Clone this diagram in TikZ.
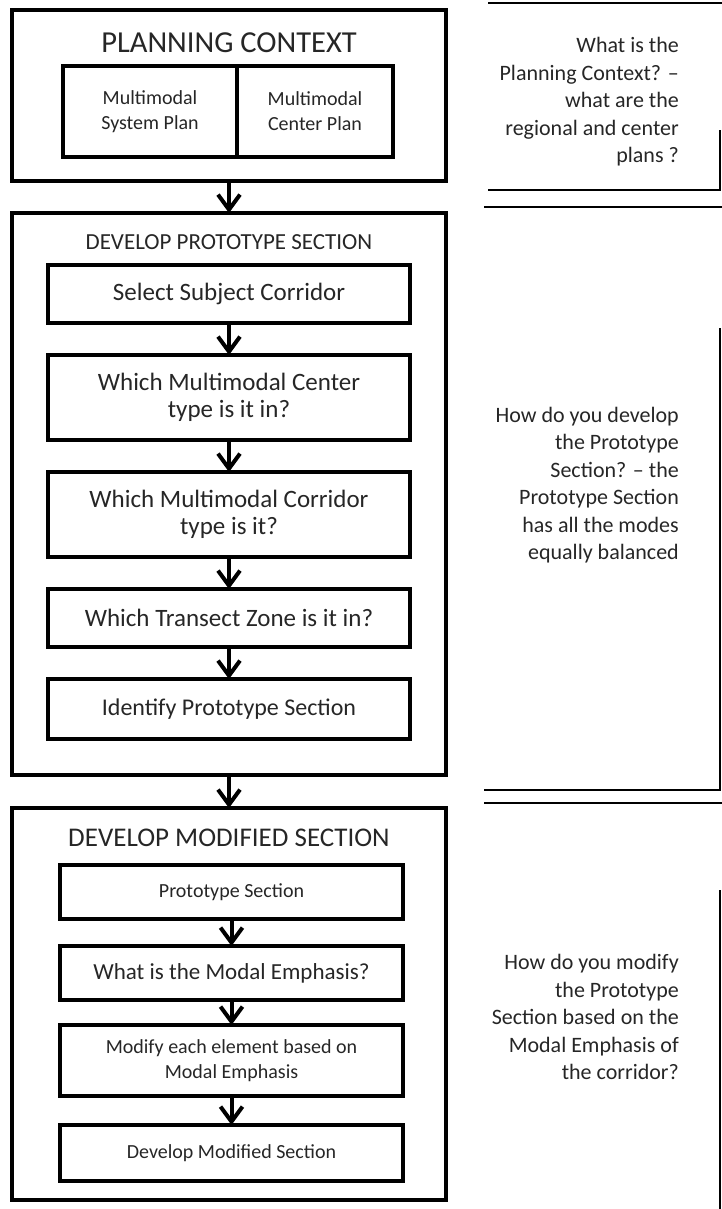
\documentclass[tikz,border=0pt]{standalone}
\usepackage{fontspec}
\setmainfont{Carlito}
\usetikzlibrary{arrows.meta, positioning}

\begin{document}
\begin{tikzpicture}[x=1pt, y=-1pt,
        frame/.style={draw, line width=4pt, outer sep=0pt, inner sep=0pt,
                      minimum width=434pt},
        box/.style={draw, line width=4pt, outer sep=0pt, inner sep=0pt,
                    align=center, text=black!85},
        bigbox/.style={box, minimum width=362pt, font=\fontsize{25}{27}\selectfont},
        modbox/.style={box, minimum width=343pt, font=\fontsize{20}{25}\selectfont},
        head/.style={text=black!85, inner sep=0pt},
        note/.style={text=black!85, align=right, anchor=east, inner sep=0pt,
                     font=\fontsize{22}{27.5}\selectfont},
        rim/.style={line width=2.5pt},
        arr/.style={-{Straight Barb[length=15pt, width=22pt]}, line width=4pt}
      ]
        \useasboundingbox (0,0) rectangle (722,1209);

        % planning context
        \node[frame, minimum height=171pt] (plan) at (229,95.5) {};
        \node[head, font=\fontsize{30.5}{36}\selectfont] (plantitle) at (229,43) {PLANNING CONTEXT};
        \node[box, minimum width=174pt, minimum height=91pt,
              font=\fontsize{20}{25}\selectfont] (sysplan) at (150,111.5) {Multimodal\\System Plan};
        \node[box, minimum width=156pt, minimum height=91pt,
              font=\fontsize{20}{25}\selectfont] (ctrplan) [right=0pt of sysplan] {Multimodal\\Center Plan};

        % prototype section
        \node[frame, minimum height=562pt] (proto) at (229,494) {};
        \node[head, font=\fontsize{23}{28}\selectfont] (prototitle) at (229,242) {DEVELOP PROTOTYPE SECTION};
        \node[bigbox, minimum height=58pt] (subj) at (229,294) {Select Subject Corridor};
        \node[bigbox, minimum height=85pt] (ctype) [below=32pt of subj]  {Which Multimodal Center\\type is it in?};
        \node[bigbox, minimum height=85pt] (rtype) [below=32pt of ctype] {Which Multimodal Corridor\\type is it?};
        \node[bigbox, minimum height=58pt] (zone)  [below=32pt of rtype] {Which Transect Zone is it in?};
        \node[bigbox, minimum height=60pt, font=\fontsize{24}{27}\selectfont] (ident) [below=32pt of zone]  {Identify Prototype Section};

        % modified section
        \node[frame, minimum height=392pt] (modif) at (229,1004) {};
        \node[head, font=\fontsize{27}{32}\selectfont] (modiftitle) at (229,838) {DEVELOP MODIFIED SECTION};
        \node[modbox, minimum height=54pt] (psec) at (231.5,892) {Prototype Section};
        \node[modbox, minimum height=54pt, font=\fontsize{23}{25}\selectfont] (emph) [below=27pt of psec] {What is the Modal Emphasis?};
        \node[modbox, minimum height=71pt] (elem) [below=25pt of emph] {Modify each element based on\\Modal Emphasis};
        \node[modbox, minimum height=56pt] (msec) [below=29pt of elem] {Develop Modified Section};

        \draw[arr] (plan)--(proto);
        \draw[arr] (proto)--(modif);
        \draw[arr] (subj)--(ctype);
        \draw[arr] (ctype)--(rtype);
        \draw[arr] (rtype)--(zone);
        \draw[arr] (zone)--(ident);
        \draw[arr] (psec)--(emph);
        \draw[arr] (emph)--(elem);
        \draw[arr] (elem)--(msec);

        % questions on the right
        \node[note] (q1) at (679,102) {What is the\\Planning Context? –\\what are the\\regional and center\\plans ?};
        \node[note] (q2) at (679,485) {How do you develop\\the Prototype\\Section? – the\\Prototype Section\\has all the modes\\equally balanced};
        \node[note] (q3) at (679,1017) {How do you modify\\the Prototype\\Section based on the\\Modal Emphasis of\\the corridor?};

        \draw[rim] (488,3) -- (722,3);
        \draw[rim] (488,190) -- (720,190) -- (720,130);
        \draw[rim] (484,207) -- (722,207);
        \draw[rim] (484,790) -- (720,790) -- (720,328);
        \draw[rim] (484,803) -- (722,803);
        \draw[rim] (720,890) -- (720,1209);
      \end{tikzpicture}
\end{document}
